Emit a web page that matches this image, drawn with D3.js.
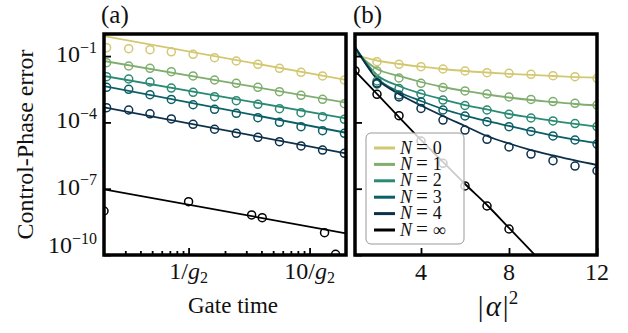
<!DOCTYPE html>
<html>
<head>
<meta charset="utf-8">
<script src="https://cdn.jsdelivr.net/npm/d3@7"></script>
<style>
  body { margin: 0; background: #fff; }
</style>
</head>
<body>
<div id="chart"></div>
<script>
// ---- data ----
const seriesNames = ['0', '1', '2', '3', '4', '∞'];
const seriesColors = ['#d3c872', '#7fae6f', '#2b8a73', '#0b5f66', '#0c3049', '#000000'];

// panel (a): error vs gate time (units of 1/g2)
const gateTimes = [0.21, 0.32, 0.48, 0.72, 1.09, 1.64, 2.48, 3.74, 5.64, 8.5, 12.8, 19.4];
const gateErr0 = [0.24, 0.216, 0.195, 0.157, 0.121, 0.0847, 0.060, 0.0426, 0.0281, 0.0185, 0.0126, 0.0083];
const gateErr1 = [0.0503, 0.0357, 0.0281, 0.0197, 0.0126, 0.0083, 0.00588, 0.00387, 0.00245, 0.00168, 0.00111, 0.000702];
const gateErr2 = [0.0117, 0.0092, 0.00673, 0.00356, 0.0023, 0.00146, 0.00096, 0.00066, 0.000417, 0.000275, 0.000181, 0.000138];
const gateErr3 = [0.00387, 0.00315, 0.00179, 0.00109, 0.00063, 0.00039, 0.000258, 0.000163, 0.000101, 6.4e-5, 4.2e-5, 3.2e-5];
const gateErr4 = [0.000462, 0.000364, 0.000245, 0.000143, 8.2e-5, 4.9e-5, 3.2e-5, 2.12e-5, 1.34e-5, 8.6e-6, 5.6e-6, 4.0e-6];
const gateTimesInf = [0.2, 1.0, 3.32, 4.06, 13.3, 16.4];
const gateErrInf = [9.8e-9, 2.58e-8, 6.5e-9, 4.9e-9, 1.02e-9, 1.08e-10];

// fitted power laws, given at the two ends of the axis
const fitTimes = [0.2, 20];
const gateFit0 = [0.81, 0.0083];
const gateFit1 = [0.060, 7.8e-4];
const gateFit2 = [0.0126, 1.53e-4];
const gateFit3 = [4.4e-3, 3.4e-5];
const gateFit4 = [4.8e-4, 4.0e-6];
const gateFitInf = [9.4e-8, 9.6e-10];

// panel (b): error vs |alpha|^2
const alphaPts = [2, 3, 4, 5, 6, 7, 8, 9, 10, 11, 12];
const alphaErr0 = [0.0558, 0.0426, 0.0331, 0.0261, 0.0212, 0.0177, 0.0167, 0.015, 0.013, 0.0117, 0.0099];
const alphaErr1 = [0.0212, 0.0102, 0.00588, 0.00379, 0.00264, 0.00193, 0.00141, 0.00109, 0.00088, 0.00073, 0.00061];
const alphaErr2 = [0.00747, 0.00342, 0.00193, 0.00103, 0.000582, 0.000364, 0.000233, 0.000158, 0.000116, 8.9e-5, 6.5e-5];
const alphaErr3 = [0.00547, 0.00174, 0.00084, 0.000364, 0.000195, 0.000108, 6.4e-5, 3.9e-5, 2.43e-5, 1.6e-5, 1.05e-5];
const alphaErr4 = [0.00607, 0.00141, 0.000426, 0.000128, 4.5e-5, 1.72e-5, 7.7e-6, 3.7e-6, 1.85e-6, 1.06e-6, 6.5e-7];
const alphaPtsInf = [1, 2, 3, 4, 5, 6, 7, 8];
const alphaErrInf = [0.0218, 0.00187, 0.000201, 1.44e-5, 1.41e-6, 1.33e-7, 1.65e-8, 1.5e-9];

const alphaCurve = [1, 2, 3, 4, 5, 6, 7, 8, 9, 10, 11, 12];
const alphaFit0 = [0.112, 0.0632, 0.0439, 0.0331, 0.0261, 0.0212, 0.0181, 0.0158, 0.014, 0.0126, 0.0113, 0.01054];
const alphaFit1 = [0.158, 0.0261, 0.0126, 0.00673, 0.004, 0.00264, 0.00183, 0.00134, 0.00103, 0.000838, 0.00068, 0.000582];
const alphaFit2 = [0.258, 0.014, 0.00444, 0.00203, 0.00109, 0.00061, 0.000384, 0.00024, 0.000167, 0.000116, 8.5e-5, 6.5e-5];
const alphaFit3 = [0.258, 0.0102, 0.00238, 0.00093, 0.000404, 0.000205, 0.000116, 6.9e-5, 4.1e-5, 2.55e-5, 1.68e-5, 1.17e-5];
const alphaFit4 = [0.258, 0.0092, 0.00193, 0.000582, 0.000195, 6.9e-5, 2.43e-5, 1.11e-5, 5.6e-6, 3.2e-6, 1.89e-6, 1.18e-6];
const alphaCurveInf = [1, 2, 3, 4, 5, 6, 7, 8, 9, 10];
const alphaFitInf = [0.0212, 0.00193, 0.000175, 1.6e-5, 1.62e-6, 1.63e-7, 1.83e-8, 1.67e-9, 1.52e-10, 1.38e-11];

const yTicks = [1e-1, 1e-4, 1e-7, 1e-10];
const yTickExp = ['−1', '−4', '−7', '−10'];
const gateTicks = [1, 10];
const gateTickText = ['1', '10'];
const alphaTicks = [4, 8, 12];

// ---- layout ----
const width = 628, height = 333;
const plotTop = 34, plotBottom = 255;
const panelA = {x0: 104, x1: 346};
const panelB = {x0: 355, x1: 597};
const serif = '"Liberation Serif", "Times New Roman", "DejaVu Serif", serif';

const svg = d3.select('#chart').append('svg')
    .attr('width', width)
    .attr('height', height)
    .attr('font-family', serif)
    .style('font-family', serif);

const yScale = d3.scaleLog().domain([1, 1e-10]).range([plotTop, plotBottom]);
const xGate = d3.scaleLog().domain([0.2, 20]).range([panelA.x0, panelA.x1]);
const xAlpha = d3.scaleLinear().domain([1, 12]).range([panelB.x0, panelB.x1]);

const defs = svg.append('defs');
[['clipA', panelA], ['clipB', panelB]].forEach(([id, p]) => {
    defs.append('clipPath').attr('id', id)
        .append('rect')
        .attr('x', p.x0).attr('y', plotTop)
        .attr('width', p.x1 - p.x0).attr('height', plotBottom - plotTop);
});

function zip(xs, ys) { return xs.map((x, i) => [x, ys[i]]); }

function drawPanel(g, xScale, lines, points, curve) {
    let line = d3.line()
        .x(d => xScale(d[0]))
        .y(d => yScale(d[1]))
        .curve(curve);

    g.selectAll('.fit')
        .data(lines)
        .join('path')
        .attr('class', 'fit')
        .attr('d', d => line(d.values))
        .attr('fill', 'none')
        .attr('stroke', d => d.color)
        .attr('stroke-width', 1.8);

    points.forEach(s => {
        g.append('g').selectAll('circle')
            .data(s.values)
            .join('circle')
            .attr('cx', d => xScale(d[0]))
            .attr('cy', d => yScale(d[1]))
            .attr('r', 4)
            .attr('fill', 'none')
            .attr('stroke', s.color)
            .attr('stroke-width', 1.5);
    });
}

// panel (a)
let gA = svg.append('g').attr('clip-path', 'url(#clipA)');
let fitsA = [gateFit0, gateFit1, gateFit2, gateFit3, gateFit4, gateFitInf]
    .map((v, i) => ({color: seriesColors[i], values: zip(fitTimes, v)}));
let ptsA = [gateErr0, gateErr1, gateErr2, gateErr3, gateErr4]
    .map((v, i) => ({color: seriesColors[i], values: zip(gateTimes, v)}));
ptsA.push({color: seriesColors[5], values: zip(gateTimesInf, gateErrInf)});
drawPanel(gA, xGate, fitsA, ptsA, d3.curveLinear);

// panel (b)
let gB = svg.append('g').attr('clip-path', 'url(#clipB)');
let fitsB = [alphaFit0, alphaFit1, alphaFit2, alphaFit3, alphaFit4]
    .map((v, i) => ({color: seriesColors[i], values: zip(alphaCurve, v)}));
fitsB.push({color: seriesColors[5], values: zip(alphaCurveInf, alphaFitInf)});
let ptsB = [alphaErr0, alphaErr1, alphaErr2, alphaErr3, alphaErr4]
    .map((v, i) => ({color: seriesColors[i], values: zip(alphaPts, v)}));
ptsB.push({color: seriesColors[5], values: zip(alphaPtsInf, alphaErrInf)});
drawPanel(gB, xAlpha, fitsB, ptsB, d3.curveMonotoneX);

// ---- axes (inward ticks) ----
function styleAxis(g) {
    g.select('.domain').remove();
    g.selectAll('.tick line').attr('stroke', '#000').attr('stroke-width', 1.8);
}

[panelA, panelB].forEach(p => {
    svg.append('g')
        .attr('transform', `translate(${p.x0},0)`)
        .call(d3.axisLeft(yScale).tickValues(yTicks).tickSize(-7).tickFormat(''))
        .call(styleAxis);
});

svg.append('g')
    .attr('transform', `translate(0,${plotBottom})`)
    .call(d3.axisBottom(xGate).tickValues(gateTicks).tickSize(-7).tickFormat(''))
    .call(styleAxis);

let minorGate = [0.3, 0.4, 0.5, 0.6, 0.7, 0.8, 0.9, 2, 3, 4, 5, 6, 7, 8, 9];
svg.append('g')
    .attr('transform', `translate(0,${plotBottom})`)
    .call(d3.axisBottom(xGate).tickValues(minorGate).tickSize(-4).tickFormat(''))
    .call(styleAxis);

svg.append('g')
    .attr('transform', `translate(0,${plotBottom})`)
    .call(d3.axisBottom(xAlpha).tickValues(alphaTicks).tickSize(-7).tickFormat(''))
    .call(styleAxis);

// frames
[panelA, panelB].forEach(p => {
    svg.append('rect')
        .attr('x', p.x0).attr('y', plotTop)
        .attr('width', p.x1 - p.x0).attr('height', plotBottom - plotTop)
        .attr('fill', 'none')
        .attr('stroke', '#000')
        .attr('stroke-width', 3.5);
});

// ---- tick labels ----
function addText(x, y, size) {
    return svg.append('text')
        .attr('x', x).attr('y', y)
        .attr('font-family', serif)
        .attr('font-size', size)
        .attr('fill', '#111');
}

yTicks.forEach((v, i) => {
    let t = addText(97, Math.min(yScale(v) + 6, 253), 24).attr('text-anchor', 'end');
    t.append('tspan').text('10');
    t.append('tspan').attr('dy', -9.5).attr('font-size', 16).text(yTickExp[i]);
});

gateTicks.forEach((v, i) => {
    let t = addText(xGate(v), 279, 24).attr('text-anchor', 'middle');
    t.append('tspan').text(gateTickText[i] + '/');
    t.append('tspan').attr('font-style', 'italic').text('g');
    t.append('tspan').attr('dy', 4).attr('font-size', 16).text('2');
});

alphaTicks.forEach(v => {
    addText(xAlpha(v), 280, 24).attr('text-anchor', 'middle').text(v);
});

// ---- axis titles and panel labels ----
addText(0, 0, 24)
    .attr('transform', `translate(33,${(plotTop + plotBottom) / 2}) rotate(-90)`)
    .attr('text-anchor', 'middle')
    .text('Control-Phase error');

addText((panelA.x0 + panelA.x1) / 2 + 8, 313, 23)
    .attr('text-anchor', 'middle')
    .text('Gate time');

let at = addText((panelB.x0 + panelB.x1) / 2 + 22, 316, 29)
    .attr('text-anchor', 'middle');
at.append('tspan').text('|');
at.append('tspan').attr('dx', 2).attr('font-style', 'italic').text('α');
at.append('tspan').attr('dx', 2).text('|');
at.append('tspan').attr('dy', -12).attr('font-size', 19).text('2');

addText(101, 23, 25).text('(a)');
addText(353, 23, 25).text('(b)');

// ---- legend ----
let legend = svg.append('g').attr('transform', 'translate(366,133)');
legend.append('rect')
    .attr('width', 98).attr('height', 111)
    .attr('rx', 5)
    .attr('fill', '#fff').attr('fill-opacity', 0.8)
    .attr('stroke', '#999').attr('stroke-width', 1);

let rows = legend.selectAll('.row')
    .data(seriesNames)
    .join('g')
    .attr('class', 'row')
    .attr('transform', (d, i) => `translate(0,${15 + i * 16.4})`);

rows.append('line')
    .attr('x1', 8).attr('x2', 29)
    .attr('stroke', (d, i) => seriesColors[i])
    .attr('stroke-width', 3);

let lt = rows.append('text')
    .attr('x', 34).attr('y', 5.5)
    .attr('font-family', serif)
    .attr('font-size', 18)
    .attr('fill', '#111');
lt.append('tspan').attr('font-style', 'italic').text('N');
lt.append('tspan').attr('dx', 4).attr('font-size', 21).text('=');
lt.append('tspan').attr('dx', 5).text(d => d);
</script>
</body>
</html>
